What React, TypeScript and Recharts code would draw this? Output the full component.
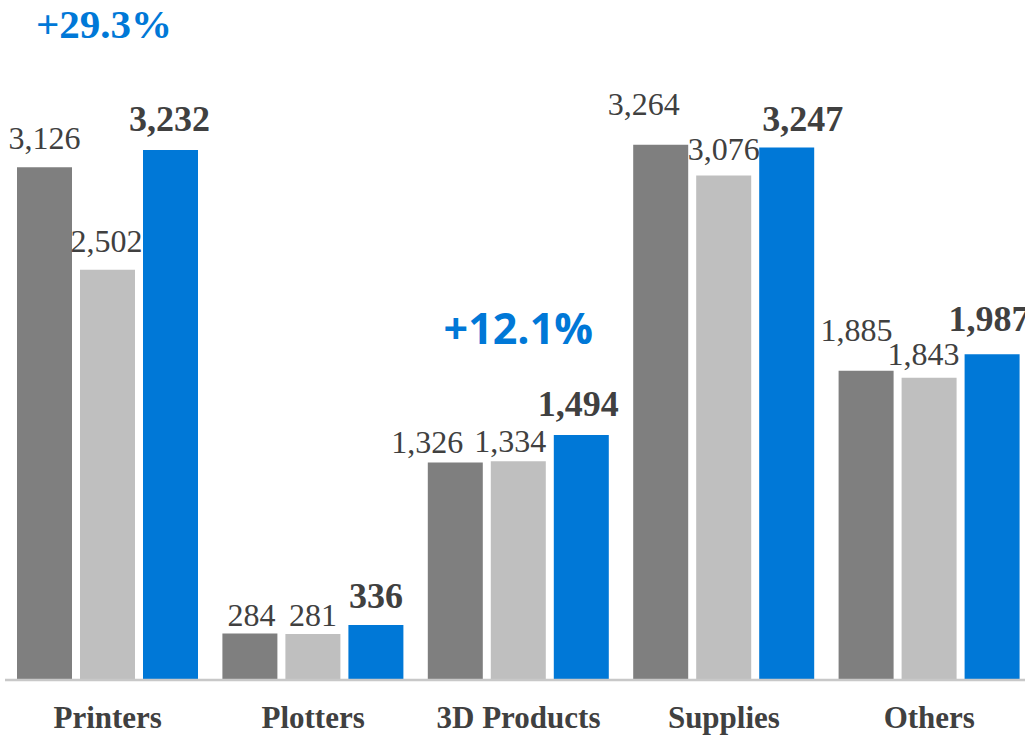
import { BarChart, Bar, XAxis, YAxis, LabelList } from 'recharts';

// values
const categories = ['Printers', 'Plotters', '3D Products', 'Supplies', 'Others'];
const twoYearsAgo = [3126, 284, 1326, 3264, 1885];
const lastYear = [2502, 281, 1334, 3076, 1843];
const thisYear = [3232, 336, 1494, 3247, 1987];
const growth = ['+29.3%', '', '+12.1%', '', ''];

const COLORS = {
  dark: '#7f7f7f',
  light: '#bfbfbf',
  blue: '#0078d7',
  text: '#404040',
  axis: '#c8c8c8',
};

const SERIF = '"Liberation Serif", "Times New Roman", serif';
const SANS = '"Open Sans", "Noto Sans", sans-serif';

const BAR = 55;
const GAP = 8;

// hand nudges for the data labels, [gap above bar, dx] per category
const NUDGE: Record<string, [number, number][]> = {
  a: [[18, 0], [7, 1.5], [10, -28], [30, -17], [29.5, -9.5]],
  b: [[18, -1], [8, 0], [9, -8], [16, 0], [13, -5.5]],
  c: [[19, -1], [17, 0], [19, -3], [16, 16], [23, -3]],
};

// growth note: [gap above blue bar, dx, font]
const NOTE_POS: Record<number, [number, number, string, number]> = {
  0: [112, -3.5, SERIF, 41],
  2: [91, 0, SANS, 43],
};

const data = categories.map((name, i) => ({
  name,
  a: twoYearsAgo[i],
  b: lastYear[i],
  c: thisYear[i],
  note: growth[i],
}));

const valueLabel = (key: string, bold: boolean) => (props: any) => {
  const { x, y, width, value, index } = props;
  const [gap, dx] = NUDGE[key][index];
  return (
    <text
      x={Number(x) + Number(width) / 2 + dx}
      y={Number(y) - gap}
      textAnchor="middle"
      fontFamily={SERIF}
      fontSize={bold ? 36 : 32}
      fontWeight={bold ? 700 : 400}
      fill={COLORS.text}
    >
      {Number(value).toLocaleString('en-US')}
    </text>
  );
};

const NoteLabel = (props: any) => {
  const { x, y, width, value, index } = props;
  if (!value || !NOTE_POS[index]) return null;
  const [gap, dx, font, size] = NOTE_POS[index];
  // centre of the whole group (blue is the third bar)
  const cx = Number(x) + Number(width) / 2 - (BAR + GAP) + dx;
  return (
    <text
      x={cx}
      y={Number(y) - gap}
      textAnchor="middle"
      fontFamily={font}
      fontSize={size}
      fontWeight={700}
      fill={COLORS.blue}
    >
      {value}
    </text>
  );
};

export default function App() {
  return (
    <div style={{ position: 'absolute', left: 0, top: 0, width: 1025, height: 735, overflow: 'hidden', background: '#fff' }}>
      <BarChart
        width={1040}
        height={735}
        data={data}
        margin={{ top: 24, right: 8, bottom: 0, left: 5 }}
        barGap={GAP}
      >
        <YAxis hide domain={[0, 4000]} />
        <XAxis
          dataKey="name"
          interval={0}
          height={55}
          tickLine={false}
          tickSize={0}
          tickMargin={26}
          axisLine={{ stroke: COLORS.axis, strokeWidth: 2.5 }}
          tick={{ fontFamily: SERIF, fontSize: 31, fontWeight: 700, fill: COLORS.text }}
        />
        <Bar dataKey="a" fill={COLORS.dark} barSize={BAR} isAnimationActive={false}>
          <LabelList dataKey="a" content={valueLabel('a', false)} />
        </Bar>
        <Bar dataKey="b" fill={COLORS.light} barSize={BAR} isAnimationActive={false}>
          <LabelList dataKey="b" content={valueLabel('b', false)} />
        </Bar>
        <Bar dataKey="c" fill={COLORS.blue} barSize={BAR} isAnimationActive={false}>
          <LabelList dataKey="c" content={valueLabel('c', true)} />
          <LabelList dataKey="note" content={NoteLabel} />
        </Bar>
      </BarChart>
    </div>
  );
}
